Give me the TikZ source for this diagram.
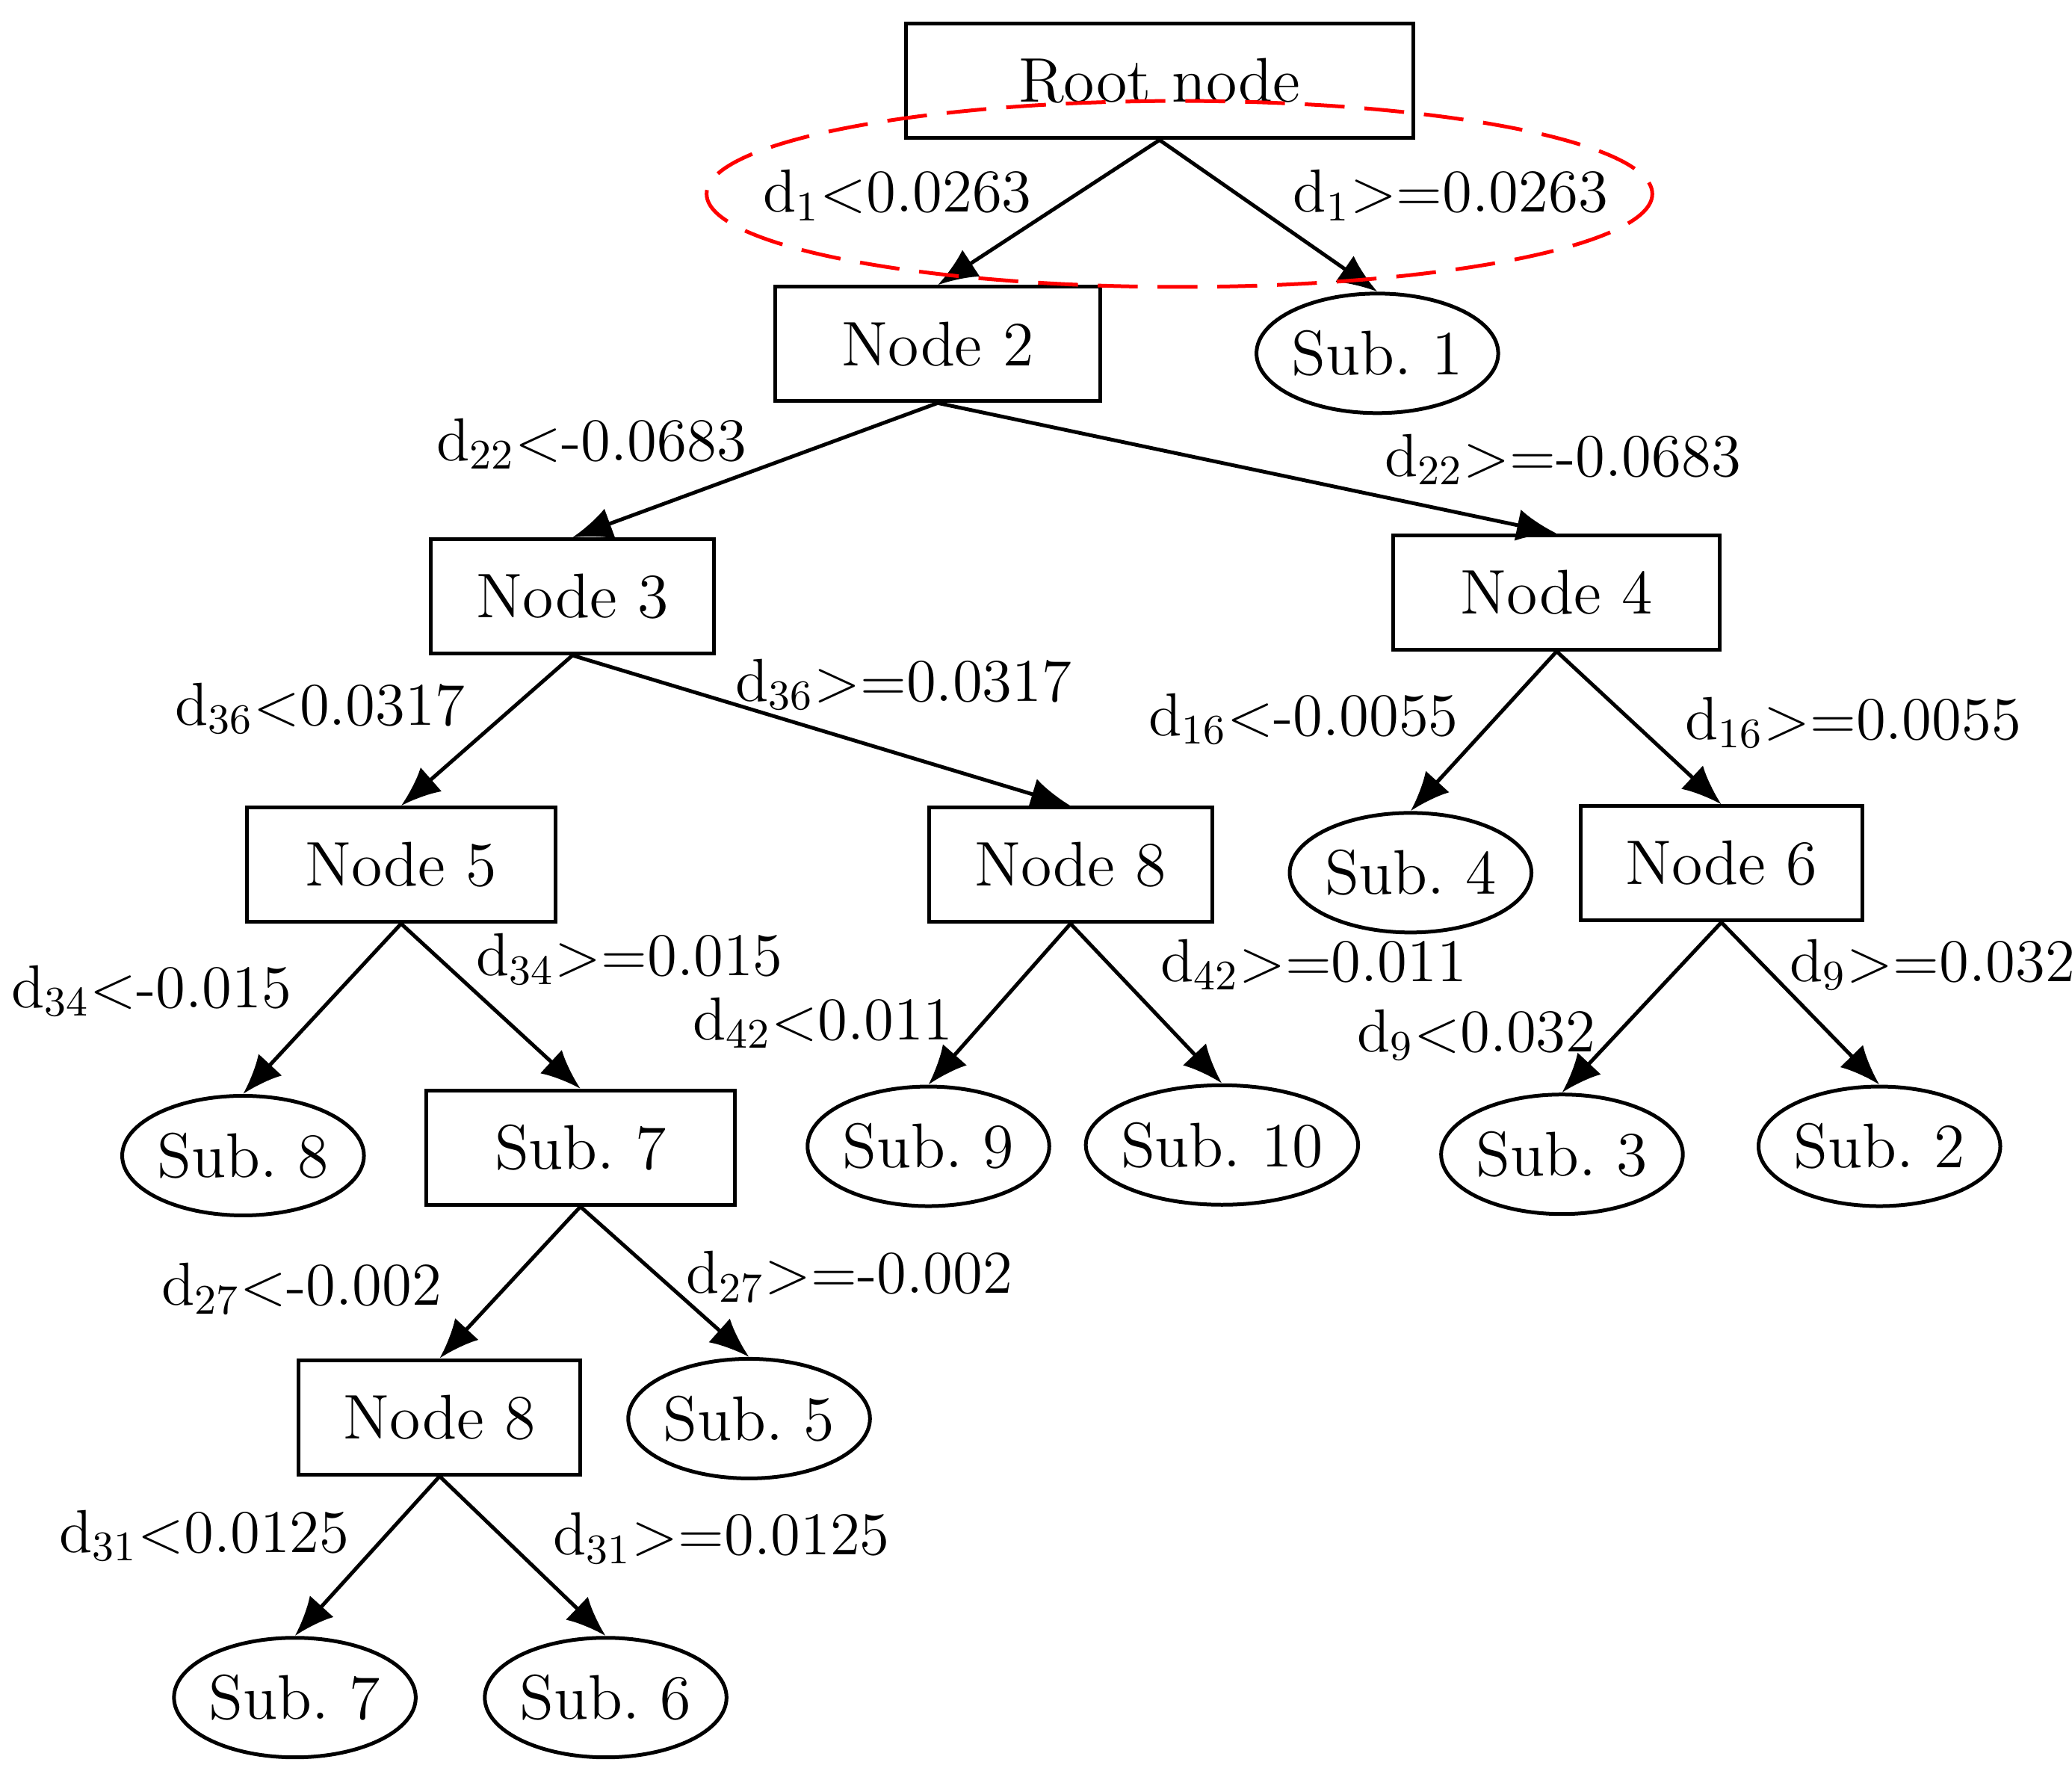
\documentclass[tikz,border=0pt]{standalone}
\usepackage{amsmath}
\usepackage{xcolor}
\usetikzlibrary{shapes.geometric,arrows.meta}
\frenchspacing
\begin{document}
\begin{tikzpicture}[x=0.1mm,y=-0.1mm,
  box/.style={draw,thick,minimum height=8.6mm,inner sep=0pt,font=\fontsize{13.5}{16}\selectfont},
  leaf/.style={draw,thick,ellipse,minimum width=18.2mm,minimum height=9mm,inner sep=-3pt,font=\fontsize{13.5}{16}\selectfont},
  edge/.style={-{Latex[length=3mm,width=2.4mm]},thick},
  cond/.style={anchor=west,inner sep=0pt,font=\fontsize{13}{16}\selectfont}]
\useasboundingbox (0,0) rectangle (1560,1333);
% boxes
\node[box,minimum width=38.2mm] (root) at (873,61) {Root node};
\node[box,minimum width=24.5mm] (n2) at (706,259) {Node 2};
\node[box,minimum width=21.3mm] (n3) at (431,449) {Node 3};
\node[box,minimum width=24.6mm] (n4) at (1172,446) {Node 4};
\node[box,minimum width=23.2mm] (n5) at (302,651) {Node 5};
\node[box,minimum width=21.3mm] (n8a) at (806,651) {Node 8};
\node[box,minimum width=21.2mm] (n6) at (1296,650) {Node 6};
\node[box,minimum width=23.2mm] (s7a) at (437,864) {Sub. 7};
\node[box,minimum width=21.2mm] (n8b) at (331,1067) {Node 8};
% leaves
\node[leaf] (s1) at (1037,266) {Sub. 1};
\node[leaf] (s4) at (1062,657) {Sub. 4};
\node[leaf] (s8) at (183,870) {Sub. 8};
\node[leaf] (s9) at (699,863) {Sub. 9};
\node[leaf,minimum width=20.5mm] (s10) at (920,862) {Sub. 10};
\node[leaf] (s3) at (1176,869) {Sub. 3};
\node[leaf] (s2) at (1415,863) {Sub. 2};
\node[leaf] (s5) at (564,1068) {Sub. 5};
\node[leaf] (s7b) at (222,1278) {Sub. 7};
\node[leaf] (s6) at (456,1278) {Sub. 6};
% connectors
\draw[edge] (root.south) -- (n2.north);
\draw[edge] (root.south) -- (s1.north);
\draw[edge] (n2.south) -- (n3.north);
\draw[edge] (n2.south) -- (n4.north);
\draw[edge] (n3.south) -- (n5.north);
\draw[edge] (n3.south) -- (n8a.north);
\draw[edge] (n4.south) -- (s4.north);
\draw[edge] (n4.south) -- (n6.north);
\draw[edge] (n5.south) -- (s8.north);
\draw[edge] (n5.south) -- (s7a.north);
\draw[edge] (n8a.south) -- (s9.north);
\draw[edge] (n8a.south) -- (s10.north);
\draw[edge] (n6.south) -- (s3.north);
\draw[edge] (n6.south) -- (s2.north);
\draw[edge] (s7a.south) -- (n8b.north);
\draw[edge] (s7a.south) -- (s5.north);
\draw[edge] (n8b.south) -- (s7b.north);
\draw[edge] (n8b.south) -- (s6.north);
% split conditions
\node[cond] (c1) at (574,147) {d$_{1}$<0.0263};
\node[cond] (c2) at (973,147) {d$_{1}$>=0.0263};
\node[cond] (c3) at (328,334) {d$_{22}$<-0.0683};
\node[cond] (c4) at (1042,346) {d$_{22}$>=-0.0683};
\node[cond] (c5) at (131,533) {d$_{36}$<0.0317};
\node[cond] (c6) at (553,515) {d$_{36}$>=0.0317};
\node[cond] (c7) at (864,541) {d$_{16}$<-0.0055};
\node[cond] (c8) at (1268,544) {d$_{16}$>=0.0055};
\node[cond] (c9) at (8,746) {d$_{34}$<-0.015};
\node[cond] (c10) at (358,722) {d$_{34}$>=0.015};
\node[cond] (c11) at (521,770) {d$_{42}$<0.011};
\node[cond] (c12) at (873,726) {d$_{42}$>=0.011};
\node[cond] (c13) at (1021,779) {d$_{9}$<0.032};
\node[cond] (c14) at (1347,726) {d$_{9}$>=0.032};
\node[cond] (c15) at (121,970) {d$_{27}$<-0.002};
\node[cond] (c16) at (516,961) {d$_{27}$>=-0.002};
\node[cond] (c17) at (44,1156) {d$_{31}$<0.0125};
\node[cond] (c18) at (416,1158) {d$_{31}$>=0.0125};
% highlight
\draw[red,thick,dash pattern=on 3mm off 1.5mm] (888,146) ellipse [x radius=356,y radius=70];
\end{tikzpicture}
\end{document}
